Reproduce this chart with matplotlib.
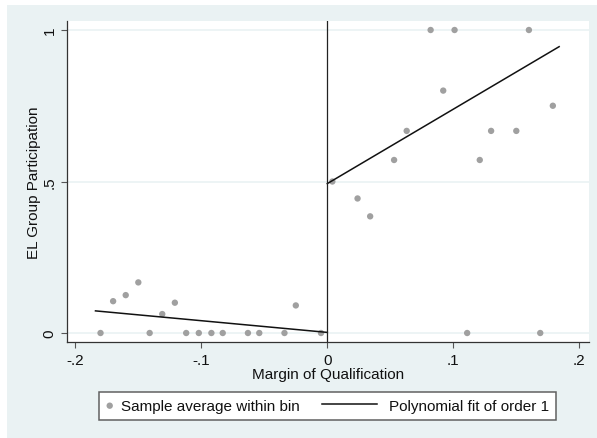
import matplotlib
matplotlib.use("Agg")
import matplotlib.pyplot as plt
from matplotlib.patches import Rectangle
from matplotlib.legend_handler import HandlerLine2D
from matplotlib.lines import Line2D

plt.rcParams['font.family'] = ['Liberation Sans', 'DejaVu Sans']

# ---- data ----
x_left = [-0.180, -0.170, -0.160, -0.150, -0.141, -0.131, -0.121, -0.112,
          -0.102, -0.092, -0.083, -0.063, -0.054, -0.034, -0.025, -0.005]
y_left = [0.0, 0.105, 0.125, 0.167, 0.0, 0.0625, 0.100, 0.0,
          0.0, 0.0, 0.0, 0.0, 0.0, 0.0, 0.091, 0.0]
x_right = [0.004, 0.024, 0.034, 0.053, 0.063, 0.082, 0.092, 0.101,
           0.111, 0.121, 0.130, 0.150, 0.160, 0.169, 0.179]
y_right = [0.5, 0.444, 0.385, 0.571, 0.667, 1.0, 0.8, 1.0,
           0.0, 0.571, 0.667, 0.667, 1.0, 0.0, 0.75]
fit_left_x = [-0.184, 0.0]
fit_left_y = [0.073, 0.002]
fit_right_x = [0.0, 0.184]
fit_right_y = [0.493, 0.945]
xticks = [-0.2, -0.1, 0.0, 0.1, 0.2]
xtick_labels = ['-.2', '-.1', '0', '.1', '.2']
yticks = [0.0, 0.5, 1.0]
ytick_labels = ['0', '.5', '1']

W, H = 597, 439
BG = '#eaf2f3'
fig = plt.figure(figsize=(W / 100, H / 100), dpi=100)
fig.patch.set_facecolor('white')
fig.patches.append(Rectangle((7 / W, 0), 1 - 7 / W, (H - 6) / H,
                             transform=fig.transFigure, facecolor=BG,
                             edgecolor='none', zorder=-10))

L, R, T, B = 66.5, 589, 22, 343
ax = fig.add_axes([L / W, (H - B) / H, (R - L) / W, (B - T) / H])
ax.set_facecolor('white')

ax.set_xlim(-0.207, 0.2077)
ax.set_ylim(-0.0297, 1.0297)

for yv in yticks:
    ax.axhline(yv, color=BG, lw=1.2, zorder=0)

pt_color = '#a0a0a0'
ax.scatter(x_left + x_right, y_left + y_right, s=21, color=pt_color,
           edgecolors='none', zorder=2, label='Sample average within bin')
ax.plot(fit_left_x, fit_left_y, color='#111111', lw=1.1, zorder=3,
        label='Polynomial fit of order 1')
ax.plot(fit_right_x, fit_right_y, color='#111111', lw=1.1, zorder=3)
ax.axvline(0, color='#222222', lw=0.9, zorder=3)

for s in ['top', 'right']:
    ax.spines[s].set_visible(False)
for s in ['left', 'bottom']:
    ax.spines[s].set_color('#333333')
    ax.spines[s].set_linewidth(0.9)

ax.set_xticks(xticks)
ax.set_xticklabels(xtick_labels)
ax.set_yticks(yticks)
ax.set_yticklabels(ytick_labels)
ax.tick_params(axis='both', direction='out', length=4.3, width=0.8,
               color='#555555', labelsize=11, labelcolor='#111111')
ax.tick_params(axis='x', pad=3.6)
ax.tick_params(axis='y', pad=2.9)
for lab in ax.get_yticklabels():
    lab.set_rotation(90)
    lab.set_va('center')

ax.set_xlabel('Margin of Qualification', fontsize=11, color='#111111')
ax.xaxis.set_label_coords(0.5, -0.078)
ax.set_ylabel('EL Group Participation', fontsize=11, color='#111111')
ax.yaxis.set_label_coords(-0.0488, 0.5)


class LongLineHandler(HandlerLine2D):
    """Legend line sample that extends further left than the handle box."""
    def get_xdata(self, legend, xdescent, ydescent, width, height, fontsize):
        xd, xm = super().get_xdata(legend, xdescent, ydescent, width, height, fontsize)
        end = -xdescent + width - 0.25 * fontsize
        return [end - 3.62 * fontsize, end], xm


handles, labels = ax.get_legend_handles_labels()
leg = ax.legend(handles, labels, loc='center',
                bbox_to_anchor=(327.5 / W, (H - 406.7) / H),
                bbox_transform=fig.transFigure, ncol=2, fontsize=11,
                frameon=True, fancybox=False, framealpha=1,
                edgecolor='#606060', facecolor='white',
                borderpad=0.46, handlelength=0.45, handletextpad=0.51,
                columnspacing=4.86, scatterpoints=1,
                handler_map={Line2D: LongLineHandler()})
leg.get_frame().set_linewidth(1.1)
for t in leg.get_texts():
    t.set_color('#111111')

fig.savefig('out.png', dpi=100, facecolor=fig.get_facecolor())
